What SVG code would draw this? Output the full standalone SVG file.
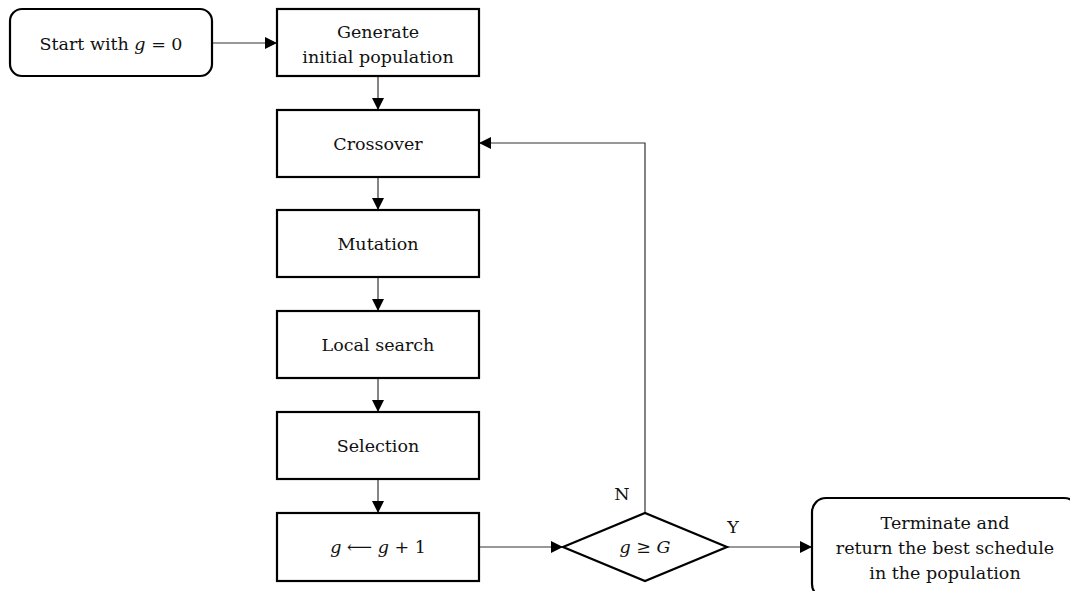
<svg xmlns="http://www.w3.org/2000/svg" width="1070" height="591" viewBox="0 0 1070 591">
<defs>
<marker id="ah" viewBox="0 0 12 12" refX="12" refY="6" markerWidth="12" markerHeight="12" markerUnits="userSpaceOnUse" orient="auto">
<path d="M0,0 L12,6 L0,12 Z" fill="#000"/>
</marker>
<style>
.box{fill:#fff;stroke:#000;stroke-width:2.2}
.t{font-family:"DejaVu Serif","Liberation Serif",serif;font-size:17.5px;fill:#111;text-anchor:middle}
.i{font-style:italic}
.c{fill:none;stroke:#333;stroke-width:1.2;marker-end:url(#ah)}
</style>
</defs>
<rect width="1070" height="591" fill="#fff"/>
<g id="connectors">
<path class="c" d="M212,43 H277"/>
<path class="c" d="M378,77 V110"/>
<path class="c" d="M378,177 V210"/>
<path class="c" d="M378,277 V311"/>
<path class="c" d="M378,378 V412"/>
<path class="c" d="M378,479 V513"/>
<path class="c" d="M479,547 H563"/>
<path class="c" d="M645,513 V143 H479"/>
<path class="c" d="M727,547 H812"/>
</g>
<g id="start"><rect class="box" x="10" y="9" width="202" height="67" rx="12"/><text class="t" x="111" y="50">Start with <tspan class="i">g</tspan> = 0</text></g>
<g id="generate"><rect class="box" x="277" y="9" width="202" height="67"/><text class="t" x="378" y="38">Generate</text><text class="t" x="378" y="63">initial population</text></g>
<g id="crossover"><rect class="box" x="277" y="110" width="202" height="67"/><text class="t" x="378" y="150">Crossover</text></g>
<g id="mutation"><rect class="box" x="277" y="210" width="202" height="67"/><text class="t" x="378" y="250">Mutation</text></g>
<g id="localsearch"><rect class="box" x="277" y="311" width="202" height="67"/><text class="t" x="378" y="351">Local search</text></g>
<g id="selection"><rect class="box" x="277" y="412" width="202" height="67"/><text class="t" x="378" y="452">Selection</text></g>
<g id="increment"><rect class="box" x="277" y="513" width="202" height="68"/><text class="t" x="378" y="553"><tspan class="i">g</tspan> ⟵ <tspan class="i">g</tspan> + 1</text></g>
<g id="decision"><polygon class="box" points="563,547 645,513 727,547 645,581"/><text class="t" x="645" y="553"><tspan class="i">g</tspan> ≥ <tspan class="i">G</tspan></text></g>
<g id="labels"><text class="t" x="622" y="500">N</text><text class="t" x="733" y="533">Y</text></g>
<g id="terminate"><rect class="box" x="812" y="498" width="266" height="100" rx="14"/><text class="t" x="945" y="529">Terminate and</text><text class="t" x="945" y="554">return the best schedule</text><text class="t" x="945" y="579">in the population</text></g>
</svg>
